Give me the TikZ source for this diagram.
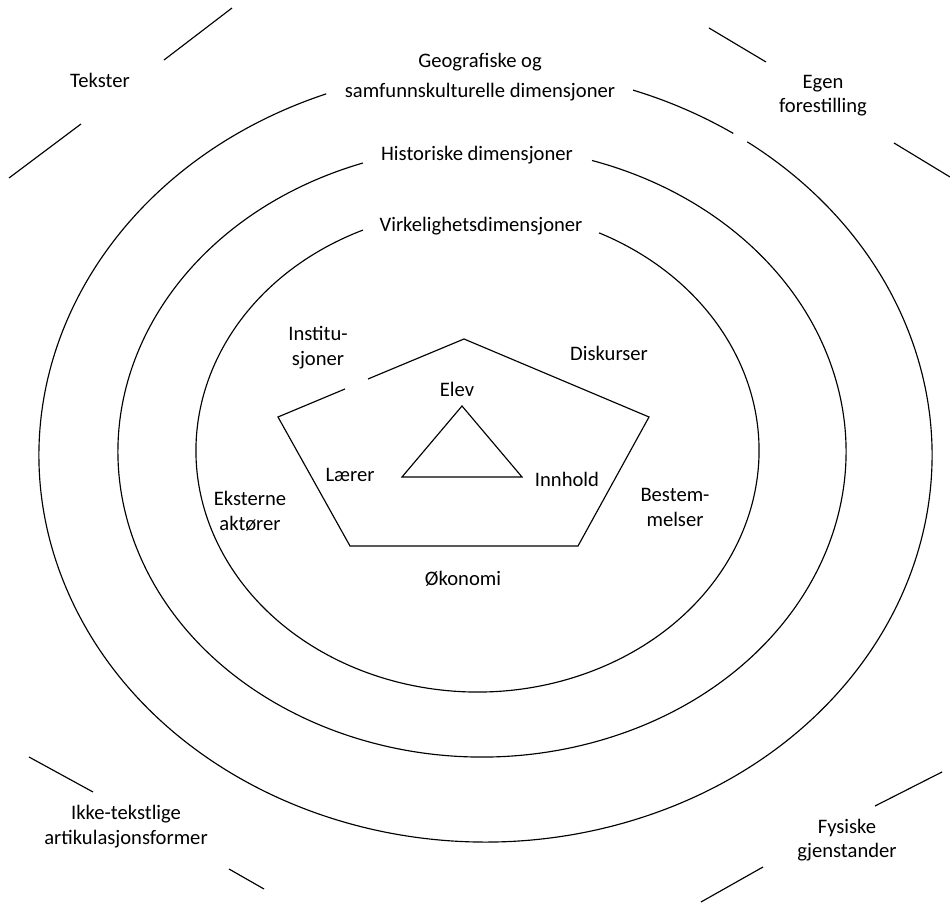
\documentclass[tikz,border=0pt]{standalone}
\usepackage{fontspec}
\setmainfont{Carlito}
\tikzset{
  lbl/.style={align=center, font=\fontsize{20.6}{24.5}\selectfont, inner sep=0pt},
  ring/.style={line width=1.15pt},
}

\begin{document}
\begin{tikzpicture}[x=1pt, y=1pt]
\useasboundingbox (0,0) rectangle (950,902);

% ellipses, angles are the parametric ones
\draw[ring] (485.5,446.8) ++(110.9:446.5 and 386.8)
  arc[start angle=110.9, end angle=414.1, x radius=446.5, y radius=386.8];
\draw[ring] (485.5,446.8) ++(56.3:446.5 and 386.8)
  arc[start angle=56.3, end angle=70.7, x radius=446.5, y radius=386.8];
\draw[ring] (482,450.4) ++(109.1:364 and 305.4)
  arc[start angle=109.1, end angle=432.4, x radius=364, y radius=305.4];
\draw[ring] (477.5,451.4) ++(114.0:281.5 and 241.4)
  arc[start angle=114.0, end angle=424.4, x radius=281.5, y radius=241.4];

% pentagon
\coordinate (pTop) at (464,563);
\coordinate (pUL) at (278,485);
\coordinate (pUR) at (649,485);
\coordinate (pBL) at (350,356);
\coordinate (pBR) at (578,356);
\coordinate (gapA) at (368,523);
\coordinate (gapB) at (345,513);
\draw[ring] (gapA) -- (pTop) -- (pUR) -- (pBR) -- (pBL) -- (pUL) -- (gapB);

% triangle
\coordinate (tTop) at (462,496);
\coordinate (tL) at (402,425);
\coordinate (tR) at (522,425);
\draw[ring] (tTop) -- (tR) -- (tL) -- cycle;

% corner strokes
\coordinate (tl1) at (9,724);   \coordinate (tl2) at (81,778);
\coordinate (tl3) at (164,842); \coordinate (tl4) at (232,894);
\coordinate (tr1) at (709,874); \coordinate (tr2) at (766,840);
\coordinate (tr3) at (894,759); \coordinate (tr4) at (950,725);
\coordinate (bl1) at (29,145);  \coordinate (bl2) at (93,110);
\coordinate (bl3) at (229,33);  \coordinate (bl4) at (264,13);
\coordinate (br1) at (875,96);  \coordinate (br2) at (942,130);
\coordinate (br3) at (763,35);  \coordinate (br4) at (701,0);
\draw[ring] (tl1) -- (tl2) (tl3) -- (tl4);
\draw[ring] (tr1) -- (tr2) (tr3) -- (tr4);
\draw[ring] (bl1) -- (bl2) (bl3) -- (bl4);
\draw[ring] (br1) -- (br2) (br3) -- (br4);

\node[lbl] (tekster) at (100,822) {Tekster};
\node[lbl] (geo) at (480,825) {Geografiske og\\[5.5pt]samfunnskulturelle dimensjoner};
\node[lbl] (hist) at (477,747) {Historiske dimensjoner};
\node[lbl] (virk) at (481,676) {Virkelighetsdimensjoner};
\node[lbl] (egen) at (823,806.5) {Egen\\forestilling};
\node[lbl] (ikke) at (126,75.5) {Ikke-tekstlige\\artikulasjonsformer};
\node[lbl] (fys) at (847,62) {Fysiske\\gjenstander};

\node[lbl] (inst) at (318,554.5) {Institu-\\sjoner};
\node[lbl] (disk) at (609,549) {Diskurser};
\node[lbl] (ekst) at (250,391) {Eksterne\\aktører};
\node[lbl] (best) at (675,394.5) {Bestem-\\melser};
\node[lbl] (okon) at (463,323) {Økonomi};

\node[lbl] (elev) at (457,513) {Elev};
\node[lbl] (laerer) at (350,427) {Lærer};
\node[lbl] (innhold) at (567,423) {Innhold};
\end{tikzpicture}
\end{document}
